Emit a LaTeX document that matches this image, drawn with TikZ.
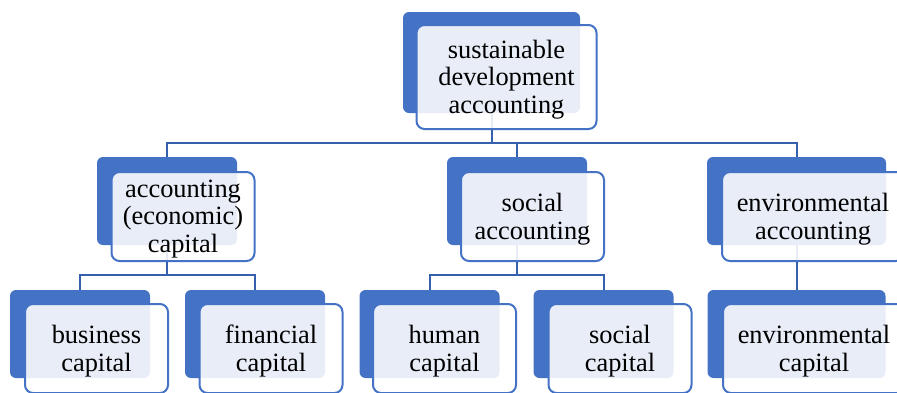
\documentclass[tikz,border=0pt]{standalone}
\usepackage{fontspec}
\setmainfont{Liberation Serif}
\usetikzlibrary{positioning}
\definecolor{boxblue}{HTML}{4472C4}
\definecolor{lineblue}{HTML}{3560AE}
\tikzset{
    backbox/.style={fill=boxblue, rounded corners=3pt, inner sep=0pt,
        minimum width=70pt, minimum height=44pt},
    frontbox/.style={draw=boxblue, line width=1pt, fill=white, fill opacity=0.88,
        text opacity=1, rounded corners=4pt, inner sep=0pt,
        minimum width=71.5pt, minimum height=44.5pt, align=center, text depth=0.4pt,
        font=\fontsize{13.2}{13.8}\selectfont},
    link/.style={draw=lineblue, line width=1pt},
}

\begin{document}
\begin{tikzpicture}[x=0.5pt, y=-0.5pt]
	\useasboundingbox[fill=white] (0,0) rectangle (897,392);
	% dark blue back plates
	\node[backbox, minimum width=88.5pt, minimum height=50.5pt] (top) at (491.5,62.5) {};
	\node[backbox] (acc) at (167,201) {};
	\node[backbox] (soc) at (517,201) {};
	\node[backbox, minimum width=89.5pt] (env) at (796.5,201) {};
	\node[backbox] (bus) at (80,334) {};
	\node[backbox] (fin) at (255,334) {};
	\node[backbox] (hum) at (429.5,334) {};
	\node[backbox] (soccap) at (603.5,334) {};
	\node[backbox, minimum width=89pt] (envcap) at (796.5,334) {};
	% tree lines
	\coordinate (rail1) at (0,143);
	\coordinate (rail2) at (0,275);
	\draw[link] (top.south) -- (top.south |- rail1);
	\draw[link] (acc.north) -- (acc.north |- rail1) -- (env.north |- rail1) -- (env.north);
	\draw[link] (soc.north) -- (soc.north |- rail1);
	\draw[link] (acc.south) -- (acc.south |- rail2);
	\draw[link] (bus.north) -- (bus.north |- rail2) -- (fin.north |- rail2) -- (fin.north);
	\draw[link] (soc.south) -- (soc.south |- rail2);
	\draw[link] (hum.north) -- (hum.north |- rail2) -- (soccap.north |- rail2) -- (soccap.north);
	\draw[link] (env.south) -- (envcap.north);
	% light front cards with the labels
	\node[frontbox, minimum width=90pt, minimum height=52pt] (topf) at ([shift={(15,14.5)}]top.center)
		{sustainable\\development\\accounting};
	\node[frontbox] (accf) at ([shift={(16,15.5)}]acc.center) {accounting\\(economic)\\capital};
	\node[frontbox] (socf) at ([shift={(15.5,15.5)}]soc.center) {social\\accounting};
	\node[frontbox, minimum width=91pt] (envf) at ([shift={(16.5,15.5)}]env.center) {environmental\\accounting};
	\node[frontbox] (busf) at ([shift={(16.5,14.5)}]bus.center) {business\\capital};
	\node[frontbox] (finf) at ([shift={(16,14.5)}]fin.center) {financial\\capital};
	\node[frontbox] (humf) at ([shift={(15,14.5)}]hum.center) {human\\capital};
	\node[frontbox] (soccapf) at ([shift={(16.5,14.5)}]soccap.center) {social\\capital};
	\node[frontbox, minimum width=91pt] (envcapf) at ([shift={(17.5,14.5)}]envcap.center) {environmental\\capital};
\end{tikzpicture}
\end{document}
